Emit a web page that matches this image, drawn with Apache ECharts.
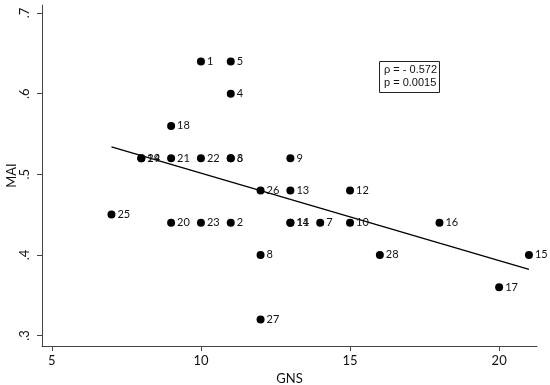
<!DOCTYPE html>
<html>
<head>
<meta charset="utf-8">
<script src="https://cdn.jsdelivr.net/npm/echarts@6/dist/echarts.min.js"></script>
<style>html,body{margin:0;padding:0;background:#fff}#c{width:550px;height:385px}</style>
</head>
<body>
<div id="c"></div>
<script>
// Data
const ids = ['1','2','3','4','5','6','7','8','9','10','11','12','13','14','15','16','17','18','19','20','21','22','23','24','25','26','27','28'];
const gns = [10,11,11,11,11,11,14,12,13,15,13,15,13,13,21,18,20,9,8,9,9,10,10,8,7,12,12,16];
const mai = [0.64,0.44,0.52,0.60,0.64,0.52,0.44,0.40,0.52,0.44,0.44,0.48,0.48,0.44,0.40,0.44,0.36,0.56,0.52,0.44,0.52,0.52,0.44,0.52,0.45,0.48,0.32,0.40];
const fitX = [7, 21];
const fitY = [0.534, 0.382];
const xTicks = [5, 10, 15, 20];
const yTicks = [0.3, 0.4, 0.5, 0.6, 0.7];
const statLines = ['\u03c1 = - 0.572', 'p = 0.0015'];

const FONT = 'Lato';
const pts = gns.map((x, i) => ({ value: [x, mai[i]], name: ids[i] }));

const chart = echarts.init(document.getElementById('c'), null, { renderer: 'canvas' });
chart.setOption({
  animation: false,
  backgroundColor: '#fff',
  textStyle: { fontFamily: FONT },
  grid: { left: 42, right: 13, top: 5, bottom: 39, containLabel: false, outerBoundsMode: 'none' },
  xAxis: {
    type: 'value', min: 4.67, max: 21.27,
    name: 'GNS', nameLocation: 'middle', nameGap: 26, nameMoveOverlap: false,
    nameTextStyle: { fontSize: 13, color: '#111', fontFamily: FONT },
    axisLine: { show: true, onZero: false, lineStyle: { color: '#444', width: 1 } },
    axisTick: { show: true, length: 5, customValues: xTicks, lineStyle: { color: '#444' } },
    axisLabel: { customValues: xTicks, fontSize: 13, color: '#111', margin: 8, fontFamily: FONT },
    splitLine: { show: false }
  },
  yAxis: {
    type: 'value', min: 0.287, max: 0.71,
    name: 'MAI', nameLocation: 'middle', nameGap: 24, nameRotate: 90, nameMoveOverlap: false,
    nameTextStyle: { fontSize: 13, color: '#111', fontFamily: FONT },
    axisLine: { show: true, onZero: false, lineStyle: { color: '#444', width: 1 } },
    axisTick: { show: true, length: 5, customValues: yTicks, lineStyle: { color: '#444' } },
    axisLabel: { customValues: yTicks, rotate: 90, fontSize: 13, color: '#111', margin: 11, fontFamily: FONT,
      formatter: v => '.' + Math.round(v * 10) },
    splitLine: { show: false }
  },
  series: [
    {
      type: 'line', data: fitX.map((x, i) => [x, fitY[i]]), showSymbol: false, symbol: 'none',
      lineStyle: { color: '#000', width: 1.3 }, z: 1, silent: true
    },
    {
      type: 'scatter', data: pts, symbolSize: 8,
      itemStyle: { color: '#000', opacity: 1 },
      label: { show: true, position: 'right', distance: 2, formatter: p => p.name,
        fontSize: 11, color: '#111', fontFamily: FONT },
      z: 2
    }
  ],
  graphic: [
    { type: 'rect', left: 379, top: 61, shape: { width: 60, height: 31 },
      style: { fill: '#fff', stroke: '#222', lineWidth: 1 } },
    { type: 'text', left: 384, top: 64,
      style: { text: statLines.join('\n'), font: '11px "Liberation Sans"', fill: '#111', lineHeight: 12.5 } }
  ]
});
</script>
</body>
</html>
